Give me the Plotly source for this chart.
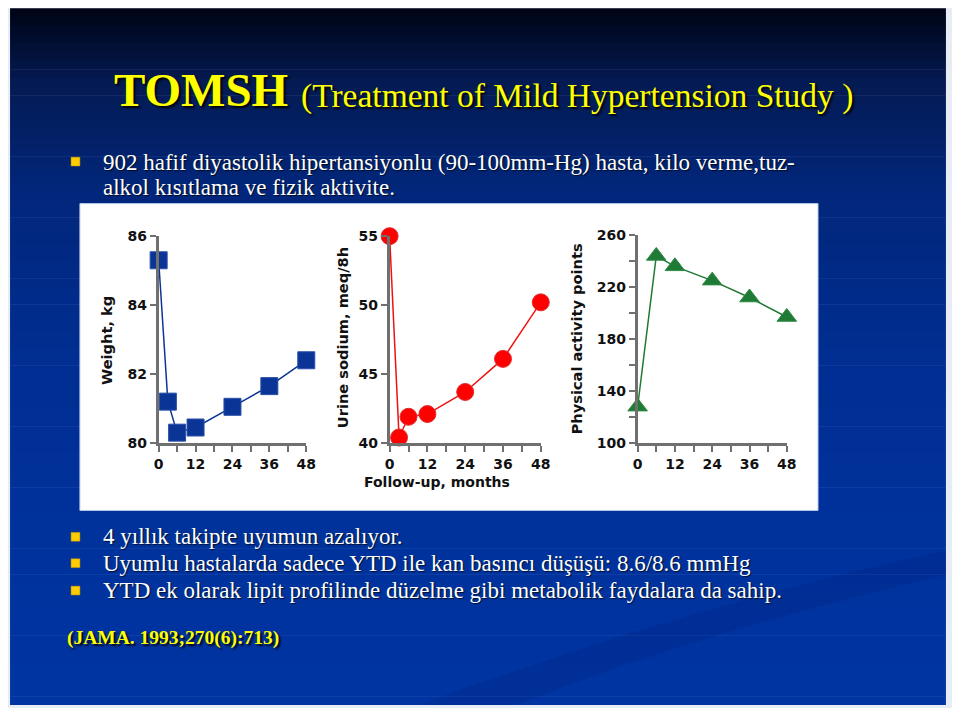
import plotly.graph_objects as go

# ---------------- data ----------------
months_weight = [0, 3, 6, 12, 24, 36, 48]
weight_kg = [85.3, 81.2, 80.3, 80.45, 81.05, 81.65, 82.4]

months_sodium = [0, 3, 6, 12, 24, 36, 48]
urine_sodium = [55.0, 40.4, 41.9, 42.1, 43.7, 46.1, 50.2]

months_activity = [0, 6, 12, 24, 36, 48]
activity_points = [128, 244, 236, 225, 212, 197]

x_tickvals = [0, 6, 12, 18, 24, 30, 36, 42, 48]
x_ticktext = ["0", "", "12", "", "24", "", "36", "", "48"]
w_tickvals = [80, 82, 84, 86]
s_tickvals = [40, 45, 50, 55]
a_tickvals = [100, 120, 140, 160, 180, 200, 220, 240, 260]
a_ticktext = ["100", "", "140", "", "180", "", "220", "", "260"]

title_main = "TOMSH"
title_sub = "(Treatment of Mild Hypertension Study )"
bullet_top = ["902 hafif diyastolik hipertansiyonlu (90-100mm-Hg) hasta, kilo verme,tuz-",
              "alkol kısıtlama ve fizik aktivite."]
bullets_bottom = ["4 yıllık takipte uyumun azalıyor.",
                  "Uyumlu hastalarda sadece YTD ile kan basıncı düşüşü: 8.6/8.6 mmHg",
                  "YTD ek olarak lipit profilinde düzelme gibi metabolik faydalara da sahip."]
citation = "(JAMA. 1993;270(6):713)"

# figure size chosen so the page (with default 8px body margin) fits the window
W, H = 944, 700
OX, OY = 8, 8
def px(x): return (x - OX) / W
def py(y): return 1 - (y - OY) / H

fig = go.Figure()

# ---------------- background ----------------
stops = [(0.0, (0, 5, 24)), (0.1, (4, 26, 82)), (0.25, (2, 38, 122)),
         (0.5, (0, 46, 146)), (0.75, (0, 50, 156)), (1.0, (0, 52, 162))]
def grad(t):
    for (t0, c0), (t1, c1) in zip(stops[:-1], stops[1:]):
        if t <= t1:
            f = (t - t0) / (t1 - t0)
            return "rgb(%d,%d,%d)" % tuple(round(a + (b - a) * f) for a, b in zip(c0, c1))
    return "rgb(%d,%d,%d)" % stops[-1][1]

shapes = []
nb = 80
top, bot = 0, 713
for i in range(nb):
    y0 = top + (bot - top) * i / nb
    y1 = top + (bot - top) * (i + 1) / nb + 0.6
    shapes.append(dict(type="rect", xref="paper", yref="paper", x0=px(5), x1=px(956),
                       y0=py(min(y1, bot)), y1=py(y0), fillcolor=grad(i / nb),
                       line=dict(width=0), layer="below"))
# subtle swoosh
shapes.append(dict(type="path", xref="paper", yref="paper",
                   path="M %f %f Q %f %f %f %f L %f %f Q %f %f %f %f Z" % (
                       px(420), py(713), px(700), py(610), px(956), py(555),
                       px(956), py(580), px(700), py(640), px(520), py(713)),
                   fillcolor="rgba(0,20,90,0.12)", line=dict(width=0), layer="below"))
# white chart panel
shapes.append(dict(type="rect", xref="paper", yref="paper", x0=px(76), x1=px(826),
                   y0=py(514), y1=py(200), fillcolor="white",
                   line=dict(width=1, color="#b8cce8"), layer="below"))
# bullet squares
for yc in [157, 541, 568, 596]:
    shapes.append(dict(type="rect", xref="paper", yref="paper", x0=px(67), x1=px(76),
                       y0=py(yc + 4.5), y1=py(yc - 4.5), fillcolor="#ffcc00",
                       line=dict(width=0.5, color="#c89a00")))

# ---------------- traces ----------------
fig.add_trace(go.Scatter(x=months_weight, y=weight_kg, mode="lines+markers",
                         line=dict(color="#0a3596", width=1.5),
                         marker=dict(symbol="square", size=17, color="#0a3596",
                                     line=dict(width=1, color="#2a4fa8")),
                         cliponaxis=False, xaxis="x", yaxis="y", showlegend=False))
fig.add_trace(go.Scatter(x=months_sodium, y=urine_sodium, mode="lines+markers",
                         line=dict(color="#ee1111", width=1.5),
                         marker=dict(symbol="circle", size=17, color="#ff0000",
                                     line=dict(width=1, color="#e03030")),
                         cliponaxis=False, xaxis="x2", yaxis="y2", showlegend=False))
fig.add_trace(go.Scatter(x=months_activity, y=activity_points, mode="lines+markers",
                         line=dict(color="#1e7a34", width=1.5),
                         marker=dict(symbol="triangle-up", size=17, color="#1e7a34",
                                     line=dict(width=1, color="#2f8a45")),
                         cliponaxis=False, xaxis="x3", yaxis="y3", showlegend=False))

tickfont = dict(family="DejaVu Sans", size=14, color="#111111", weight="bold")
axis_common = dict(showline=True, linecolor="#707070", linewidth=2.5, ticks="outside",
                   ticklen=6, tickwidth=2, tickcolor="#707070", showgrid=False,
                   zeroline=False, tickfont=tickfont, fixedrange=True)

def xax(d0, d1, anchor):
    return dict(domain=[px(d0), px(d1)], range=[0, 48], anchor=anchor,
                tickmode="array", tickvals=x_tickvals, ticktext=x_ticktext, **axis_common)

def yax(d0, d1, rng, tv, tt, anchor):
    return dict(domain=[py(d1), py(d0)], range=rng, anchor=anchor,
                tickmode="array", tickvals=tv, ticktext=tt, **axis_common)

fig.update_layout(
    xaxis=xax(156, 306, "y"),
    yaxis=yax(233.3, 445, [80, 86], w_tickvals, [str(v) for v in w_tickvals], "x"),
    xaxis2=xax(390.7, 544.3, "y2"),
    yaxis2=yax(233.3, 445, [40, 55], s_tickvals, [str(v) for v in s_tickvals], "x2"),
    xaxis3=xax(642.7, 794.3, "y3"),
    yaxis3=yax(232.3, 445, [100, 260], a_tickvals, a_ticktext, "x3"),
)

# ---------------- annotations ----------------
ann = []
labfont = dict(family="DejaVu Sans", size=14.6, color="#111111", weight="bold")
ann.append(dict(text="Weight, kg", x=px(103), y=py(340), textangle=-90, font=labfont))
ann.append(dict(text="Urine sodium, meq/8h", x=px(343), y=py(337), textangle=-90, font=labfont))
ann.append(dict(text="Physical activity points", x=px(581), y=py(338), textangle=-90, font=labfont))
ann.append(dict(text="Follow-up, months", x=px(439), y=py(485),
                font=dict(family="DejaVu Sans", size=14, color="#111111", weight="bold")))

shadow = "2px 2px 2px rgba(0,0,0,0.9)"
serif = "Liberation Serif, Times New Roman, serif"
ann.append(dict(text=title_main, x=px(109), y=py(84), xanchor="left",
                font=dict(family=serif, size=47, color="#ffff00", weight="bold", shadow=shadow)))
ann.append(dict(text=title_sub, x=px(299), y=py(90), xanchor="left",
                font=dict(family=serif, size=33.5, color="#ffff00", shadow=shadow)))

bfont = dict(family=serif, size=23, color="white", shadow="1px 1px 1px rgba(0,0,0,0.7)")
ann.append(dict(text=bullet_top[0], x=px(97), y=py(158), xanchor="left", font=bfont))
ann.append(dict(text=bullet_top[1], x=px(97), y=py(183.6), xanchor="left", font=bfont))
for txt, yc in zip(bullets_bottom, [540.5, 568.2, 596.2]):
    ann.append(dict(text=txt, x=px(97), y=py(yc), xanchor="left", font=bfont))
ann.append(dict(text=citation, x=px(61), y=py(644.5), xanchor="left",
                font=dict(family=serif, size=19.5, color="#ffff00", weight="bold",
                          shadow=shadow)))

for a in ann:
    a.setdefault("xref", "paper")
    a.setdefault("yref", "paper")
    a.setdefault("showarrow", False)
    a.setdefault("yanchor", "middle")
    a.setdefault("xanchor", "center")

fig.update_layout(width=W, height=H, margin=dict(l=0, r=0, t=0, b=0),
                  paper_bgcolor="#e8ecf4", plot_bgcolor="rgba(0,0,0,0)",
                  shapes=shapes, annotations=ann, showlegend=False)

fig.write_html("out.html")
